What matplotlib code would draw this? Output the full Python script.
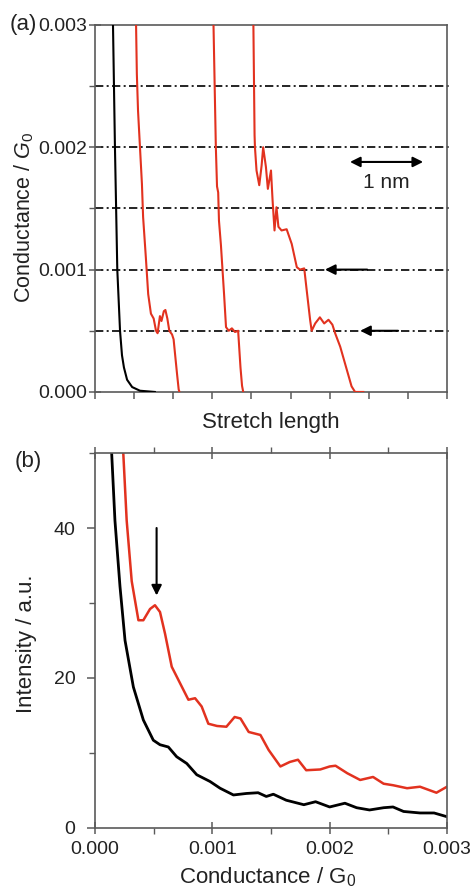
import numpy as np
import matplotlib
matplotlib.use("Agg")
import matplotlib.pyplot as plt
from matplotlib.ticker import FormatStrFormatter, MultipleLocator

plt.rcParams['font.family'] = ['Liberation Sans', 'DejaVu Sans']
plt.rcParams['mathtext.fontset'] = 'custom'
plt.rcParams['mathtext.rm'] = 'Liberation Sans'
plt.rcParams['mathtext.it'] = 'Liberation Sans:italic'

RED = '#e2321f'
SPINE = '#5a5a5a'

# (a) conductance traces vs stretch length (arbitrary units, 1 tick = ~0.53 nm)
stretch_black = [0.45, 0.46, 0.51, 0.57, 0.64, 0.69, 0.74, 0.82, 0.95, 1.15, 1.53]
g_black = [0.0031, 0.003, 0.002, 0.001, 0.0005, 0.0003, 0.0002, 0.0001, 0.00004, 0.00001, 0.0]

stretch_red1 = [1.05, 1.05, 1.07, 1.10, 1.15, 1.20, 1.23, 1.30, 1.36, 1.43, 1.50, 1.56, 1.60,
                1.66, 1.70, 1.76, 1.80, 1.85, 1.90, 1.97, 2.01, 2.05, 2.10, 2.14, 2.16]
g_red1 = [0.0031, 0.003, 0.0026, 0.0023, 0.0020, 0.0017, 0.00143, 0.0011, 0.0008, 0.00064, 0.00060,
          0.00050, 0.00048, 0.00062, 0.00058, 0.00066, 0.00067, 0.00060, 0.00050, 0.00047, 0.00043,
          0.0003, 0.00014, 0.00002, 0.0]

stretch_red2 = [3.03, 3.03, 3.06, 3.09, 3.12, 3.15, 3.17, 3.22, 3.26, 3.30, 3.35, 3.42, 3.50,
                3.58, 3.66, 3.68, 3.72, 3.76, 3.79]
g_red2 = [0.0031, 0.003, 0.0025, 0.002, 0.00168, 0.00163, 0.0014, 0.0012, 0.001, 0.0008, 0.00053,
          0.0005, 0.00052, 0.00049, 0.0005, 0.0004, 0.0002, 0.00005, 0.0]

stretch_red3 = [4.05, 4.05, 4.08, 4.09, 4.13, 4.20, 4.26, 4.30, 4.37, 4.42, 4.50, 4.54, 4.59,
                4.64, 4.69, 4.77, 4.90, 5.03, 5.16, 5.24, 5.35, 5.41, 5.50, 5.54, 5.63, 5.75,
                5.86, 5.97, 6.07, 6.14, 6.27, 6.44, 6.56, 6.65, 6.86]
g_red3 = [0.0031, 0.003, 0.0021, 0.002, 0.00181, 0.00169, 0.00185, 0.002, 0.00184, 0.00166,
          0.00181, 0.00157, 0.00132, 0.00151, 0.00135, 0.00132, 0.00133, 0.00121, 0.00102, 0.001,
          0.00101, 0.00084, 0.00059, 0.0005, 0.00056, 0.00061, 0.00056, 0.00059, 0.00055, 0.00048,
          0.00037, 0.00018, 0.000046, 0.0, 0.0]

guide_levels = [0.0005, 0.001, 0.0015, 0.002, 0.0025]

# (b) conductance histograms
hist_g_black = [0.000135, 0.000142, 0.00017, 0.000213, 0.000256, 0.000327, 0.000412, 0.000497,
                0.000554, 0.000625, 0.000696, 0.000782, 0.000867, 0.00098, 0.001066, 0.00118,
                0.00129, 0.00139, 0.00146, 0.00152, 0.00163, 0.00178, 0.00188, 0.002, 0.00213,
                0.00223, 0.00234, 0.00246, 0.00254, 0.00263, 0.00277, 0.00289, 0.003]
hist_i_black = [52, 50, 41, 32.2, 25, 18.8, 14.4, 11.7, 11.1, 10.8, 9.5, 8.6, 7.1, 6.2, 5.3, 4.4,
                4.6, 4.7, 4.2, 4.5, 3.7, 3.1, 3.5, 2.8, 3.3, 2.7, 2.4, 2.7, 2.8, 2.2, 2.0, 2.0, 1.5]

hist_g_red = [0.000235, 0.000241, 0.00027, 0.000313, 0.00037, 0.000412, 0.000469, 0.000511,
              0.000554, 0.000597, 0.000654, 0.000725, 0.000796, 0.000853, 0.000909, 0.000966,
              0.00104, 0.00112, 0.00119, 0.00124, 0.00131, 0.00141, 0.00148, 0.00158, 0.00166,
              0.00173, 0.00180, 0.00192, 0.002, 0.00205, 0.00215, 0.00226, 0.00237, 0.00246,
              0.00254, 0.00266, 0.00277, 0.00291, 0.003]
hist_i_red = [52, 50, 41, 32.9, 27.7, 27.7, 29.2, 29.7, 28.8, 25.9, 21.5, 19.3, 17.1, 17.3, 16.2,
              13.9, 13.6, 13.5, 14.8, 14.6, 12.8, 12.4, 10.4, 8.2, 8.8, 9.1, 7.7, 7.8, 8.2, 8.3,
              7.3, 6.4, 6.8, 5.9, 5.7, 5.3, 5.5, 4.7, 5.5]


def style_axes(ax):
    for s in ax.spines.values():
        s.set_color(SPINE)
        s.set_linewidth(1.2)
    ax.tick_params(which='major', direction='inout', length=9, width=1.1, color=SPINE,
                   labelsize=14, labelcolor='#222222')
    ax.tick_params(which='minor', direction='out', length=4, width=1.0, color=SPINE)


fig = plt.figure(figsize=(4.71, 8.9), dpi=100)

# ---- panel (a)
ax1 = fig.add_axes([0.2017, 0.5596, 0.7473, 0.4124])
style_axes(ax1)
for lev in guide_levels:
    ax1.axhline(lev, xmin=0, xmax=1.012, color='k', lw=1.2, dashes=(5, 2, 1.2, 2),
                clip_on=False, zorder=1)
ax1.plot(stretch_black, g_black, color='k', lw=1.5, zorder=3)
ax1.plot(stretch_red1, g_red1, color=RED, lw=1.5, zorder=3)
ax1.plot(stretch_red2, g_red2, color=RED, lw=1.5, zorder=3)
ax1.plot(stretch_red3, g_red3, color=RED, lw=1.5, zorder=3)

ax1.set_xlim(0, 9)
ax1.set_ylim(0, 0.003)
ax1.set_xticks(range(10))
ax1.set_xticklabels([])
ax1.set_yticks([0, 0.001, 0.002, 0.003])
ax1.yaxis.set_minor_locator(MultipleLocator(0.0005))
ax1.yaxis.set_major_formatter(FormatStrFormatter('%.3f'))
ax1.tick_params(axis='y', which='major', pad=1)
ax1.tick_params(axis='x', which='major', direction='out', length=5)

ax1.set_xlabel('Stretch length', fontsize=16, color='#222222')
ax1.xaxis.set_label_coords(0.5, -0.055)
ax1.set_ylabel('Conductance / $G_0$', fontsize=15.5, color='#222222')
ax1.yaxis.set_label_coords(-0.168, 0.475)

ax1.annotate('', xy=(8.39, 0.00188), xytext=(6.52, 0.00188),
             arrowprops=dict(arrowstyle='<|-|>', color='k', lw=1.5, mutation_scale=15,
                             shrinkA=0, shrinkB=0))
ax1.text(7.45, 0.00171, '1 nm', fontsize=15, ha='center', va='center', color='#222222')
ax1.annotate('', xy=(5.88, 0.001), xytext=(6.96, 0.001),
             arrowprops=dict(arrowstyle='-|>', color='k', lw=1.5, mutation_scale=15,
                             shrinkA=0, shrinkB=0))
ax1.annotate('', xy=(6.78, 0.0005), xytext=(7.75, 0.0005),
             arrowprops=dict(arrowstyle='-|>', color='k', lw=1.5, mutation_scale=15,
                             shrinkA=0, shrinkB=0))
fig.text(0.021, 0.972, '(a)', fontsize=16, ha='left', va='center', color='#222222')

# ---- panel (b)
ax2 = fig.add_axes([0.2017, 0.0697, 0.7473, 0.4213])
style_axes(ax2)
ax2.plot(hist_g_red, hist_i_red, color=RED, lw=1.8)
ax2.plot(hist_g_black, hist_i_black, color='k', lw=2.0)

ax2.set_xlim(0, 0.003)
ax2.set_ylim(0, 50)
ax2.set_xticks([0, 0.001, 0.002, 0.003])
ax2.xaxis.set_minor_locator(MultipleLocator(0.0005))
ax2.xaxis.set_major_formatter(FormatStrFormatter('%.3f'))
ax2.set_yticks([0, 20, 40])
ax2.yaxis.set_minor_locator(MultipleLocator(10))
ax2.tick_params(axis='x', which='major', pad=5)
ax2.tick_params(axis='y', which='major', direction='out', length=6, pad=8)
ax2.tick_params(axis='x', which='both', top=True)
ax2.tick_params(axis='x', which='minor', direction='out', length=4)

ax2.set_xlabel('Conductance / G$_0$', fontsize=16, color='#222222')
ax2.xaxis.set_label_coords(0.49, -0.1)
ax2.set_ylabel('Intensity / a.u.', fontsize=16, color='#222222')
ax2.yaxis.set_label_coords(-0.165, 0.49)

ax2.annotate('', xy=(0.000525, 31), xytext=(0.000525, 40),
             arrowprops=dict(arrowstyle='-|>', color='k', lw=1.5, mutation_scale=15,
                             shrinkA=0, shrinkB=0))
fig.text(0.032, 0.481, '(b)', fontsize=16, ha='left', va='center', color='#222222')

fig.savefig('out.png', dpi=100)
